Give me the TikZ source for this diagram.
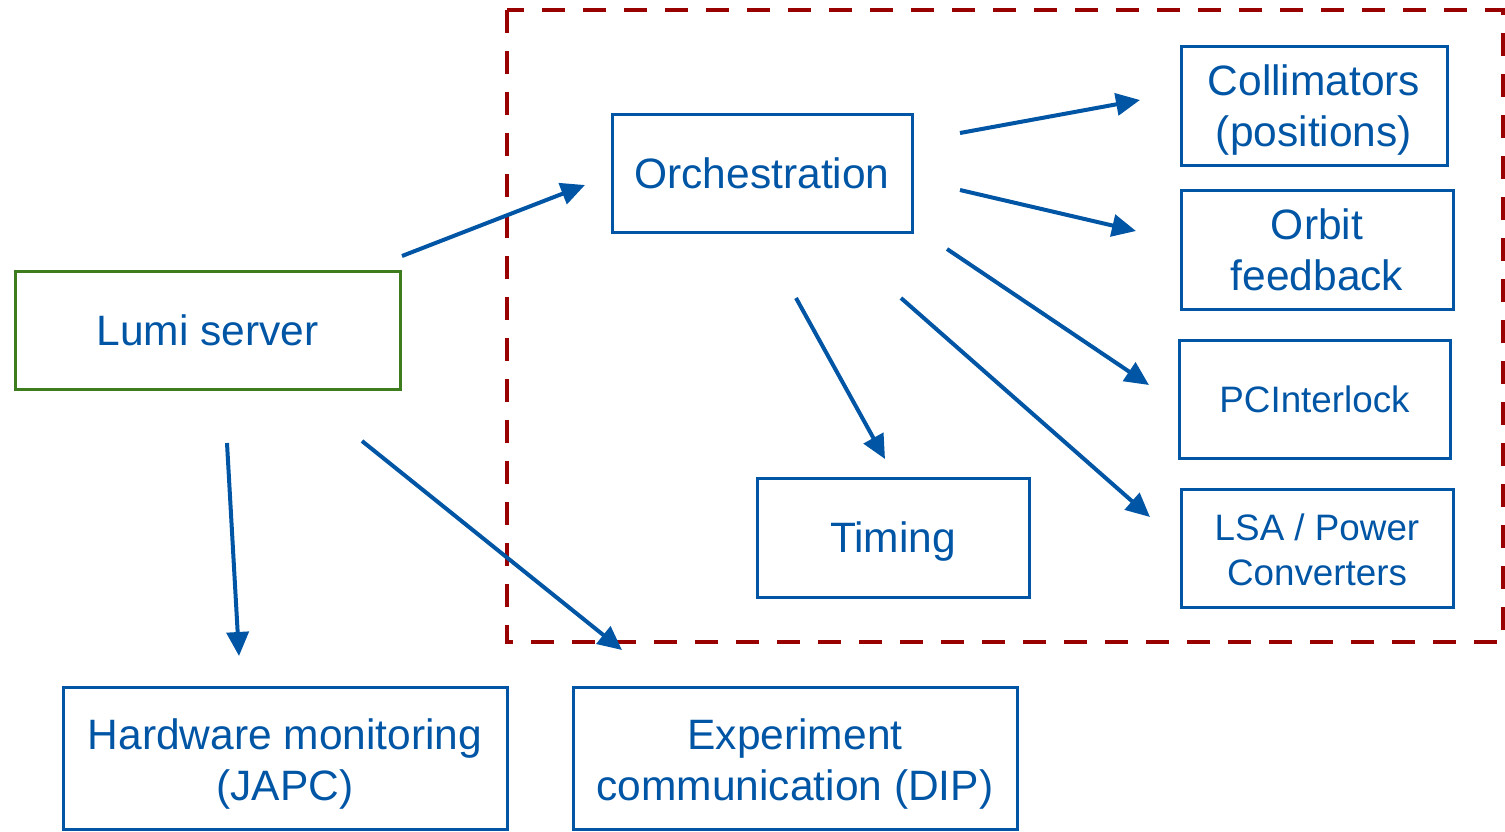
\documentclass[tikz,border=0pt]{standalone}
\usepackage{fontspec}
\setmainfont{Liberation Sans}
\usetikzlibrary{arrows.meta}
\definecolor{keyblue}{RGB}{0,85,165}
\definecolor{keygreen}{RGB}{62,125,30}
\definecolor{keyred}{RGB}{153,0,0}
% invisible strut that pushes the first line of a box down
\newcommand{\topgap}[1]{\rule{0pt}{#1}}
\tikzset{
  unitbox/.style={draw=keyblue,text=keyblue,line width=1.5pt,inner sep=0pt,align=center,
    font=\fontsize{21.25}{25.5}\selectfont},
  smallbox/.style={unitbox,font=\fontsize{18.4}{22.5}\selectfont},
  flow/.style={keyblue,line width=2pt,-{Triangle[length=12pt,width=11pt]}}
}

\begin{document}
\begin{tikzpicture}[x=.5pt,y=-.5pt]
\path[use as bounding box] (0,0) rectangle (1505,831);
% domain of the orchestrator
\draw[keyred,line width=2pt,dash pattern=on 11.5pt off 9pt] (507,10) rectangle (1503,642);

\node[unitbox,draw=keygreen,minimum width=192.5pt,minimum height=59pt] (lumi) at (207.5,330) {Lumi server};
\node[unitbox,minimum width=150pt,minimum height=59pt] (orch) at (762,173) {Orchestration};
\node[unitbox,minimum width=133pt,minimum height=59.5pt] (coll) at (1314,105.5) {\topgap{19.5pt}Collimators\\(positions)};
\node[unitbox,minimum width=136pt,minimum height=59.5pt] (orbit) at (1317,249.5) {Orbit\\feedback};
\node[smallbox,minimum width=135.5pt,minimum height=59pt] (pci) at (1314.5,399) {PCInterlock};
\node[smallbox,minimum width=136pt,minimum height=59pt] (lsa) at (1317,548) {\topgap{15.5pt}LSA / Power\\Converters};
\node[unitbox,minimum width=136pt,minimum height=59.5pt] (timing) at (893,537.5) {\topgap{19.5pt}Timing};
\node[unitbox,minimum width=222pt,minimum height=71pt] (hw) at (285,758) {\topgap{21.5pt}Hardware monitoring\\(JAPC)};
\node[unitbox,minimum width=222pt,minimum height=71pt] (exp) at (795,758) {\topgap{21.5pt}Experiment\\communication (DIP)};

% arrow ends
\coordinate (lumi-o1) at (402,256);
\coordinate (lumi-o2) at (227,443);
\coordinate (lumi-o3) at (362,441);
\coordinate (orch-i) at (585,185);
\coordinate (orch-o1) at (960,133);
\coordinate (orch-o2) at (960,190);
\coordinate (orch-o3) at (947,249);
\coordinate (orch-o4) at (901,298);
\coordinate (orch-o5) at (796,298);
\coordinate (coll-i) at (1140,100);
\coordinate (orbit-i) at (1136,231);
\coordinate (pci-i) at (1149,385);
\coordinate (lsa-i) at (1150,517);
\coordinate (timing-i) at (885,459);
\coordinate (hw-i) at (239,656);
\coordinate (exp-i) at (622,650);

\draw[flow] (lumi-o1) -- (orch-i);
\draw[flow] (lumi-o2) -- (hw-i);
\draw[flow] (lumi-o3) -- (exp-i);
\draw[flow] (orch-o1) -- (coll-i);
\draw[flow] (orch-o2) -- (orbit-i);
\draw[flow] (orch-o3) -- (pci-i);
\draw[flow] (orch-o4) -- (lsa-i);
\draw[flow] (orch-o5) -- (timing-i);
\end{tikzpicture}
\end{document}
